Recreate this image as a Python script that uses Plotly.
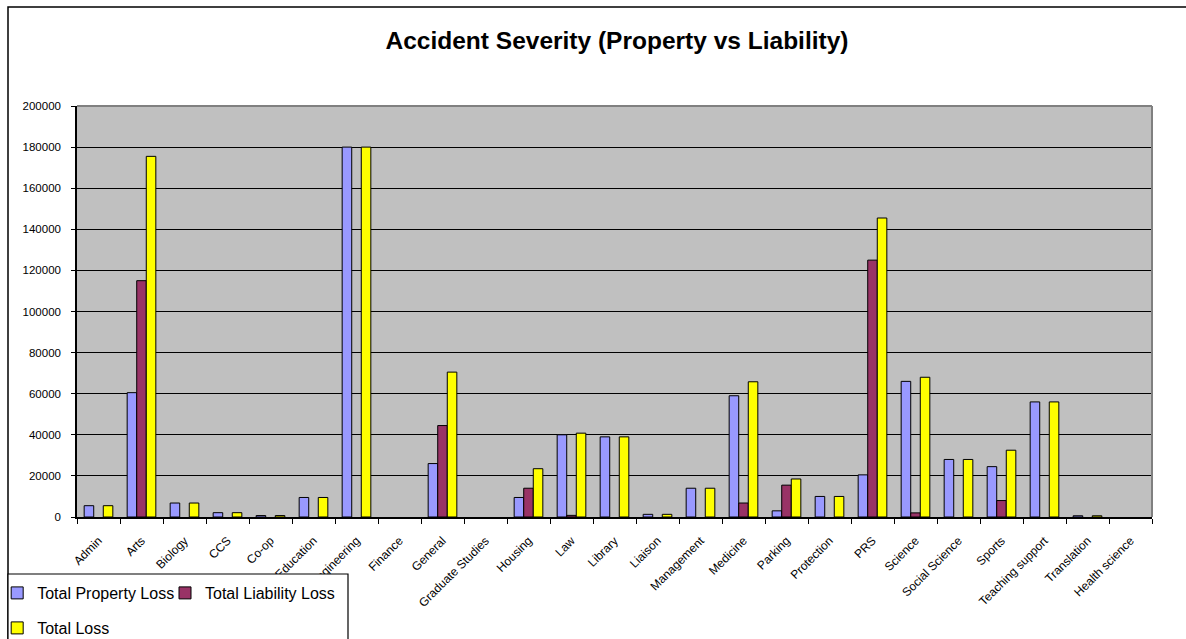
import plotly.graph_objects as go

categories = ["Admin", "Arts", "Biology", "CCS", "Co-op", "Education", "Engineering",
              "Finance", "General", "Graduate Studies", "Housing", "Law", "Library",
              "Liaison", "Management", "Medicine", "Parking", "Protection", "PRS",
              "Science", "Social Science", "Sports", "Teaching support", "Translation",
              "Health science"]
property_loss = [5500, 60500, 6800, 2100, 700, 9500, 180000, 0, 26000, 0, 9500, 40000, 39000,
                 1300, 14000, 59000, 3000, 10000, 20500, 66000, 28000, 24500, 56000, 600, 0]
liability_loss = [0, 115000, 0, 0, 0, 0, 0, 0, 44500, 0, 14000, 800, 0,
                  0, 0, 6800, 15500, 0, 125000, 2000, 0, 8000, 0, 0, 0]
total_loss = [5500, 175500, 6800, 2100, 700, 9500, 180000, 0, 70500, 0, 23500, 40800, 39000,
              1300, 14000, 65800, 18500, 10000, 145500, 68000, 28000, 32500, 56000, 600, 0]
series_names = ["Total Property Loss", "Total Liability Loss", "Total Loss"]
y_ticks = list(range(0, 200001, 20000))

colors = ["#9999FF", "#993366", "#FFFF00"]
FONT = "Liberation Sans, Arial, sans-serif"
W, H = 1186, 639
ML, MR, MT, MB = 77, 34, 106, 122
PW, PH = W - ML - MR, H - MT - MB


def px_x(p):
    return (p - ML) / PW


def px_y(p):
    return (H - MB - p) / PH


def nz(vals):
    return [v if v else None for v in vals]


fig = go.Figure()
for name, vals, col, lg in zip(series_names, [property_loss, liability_loss, total_loss],
                               colors, ["legend", "legend2", "legend3"]):
    fig.add_trace(go.Bar(x=categories, y=nz(vals), name=name, legend=lg, showlegend=True,
                         marker=dict(color=col, line=dict(color="black", width=1))))

leg_common = dict(xref="container", yref="container", xanchor="left", yanchor="middle",
                  bgcolor="rgba(0,0,0,0)", borderwidth=0, indentation=-4,
                  font=dict(family=FONT, size=16, color="black"))

fig.update_layout(
    width=W, height=H,
    showlegend=True,
    margin=dict(l=ML, r=MR, t=MT, b=MB, pad=0, autoexpand=False),
    paper_bgcolor="white", plot_bgcolor="#C0C0C0",
    barmode="group", bargap=0.333, bargroupgap=0,
    font=dict(family=FONT, color="black"),
    title=dict(text="<b>Accident Severity (Property vs Liability)</b>",
               x=617 / W, xanchor="center", xref="container",
               y=1 - 40 / H, yanchor="middle", yref="container",
               font=dict(family=FONT, size=24.5, color="black")),
    legend=dict(x=0.001, y=1 - 593 / H, **leg_common),
    legend2=dict(x=169 / W, y=1 - 593 / H, **leg_common),
    legend3=dict(x=0.001, y=1 - 628 / H, **leg_common),
    xaxis=dict(type="category", tickson="boundaries", ticks="outside", ticklen=5,
               tickcolor="black", tickwidth=1, showline=True, linecolor="black",
               linewidth=2, tickangle=-45, showgrid=False, ticklabelstandoff=10,
               tickfont=dict(family=FONT, size=12, color="black")),
    yaxis=dict(range=[0, 200000], tickvals=y_ticks, tickformat="d", ticks="outside",
               ticklen=4, tickcolor="black", showline=True, linecolor="black",
               linewidth=1.5, showgrid=True, gridcolor="black", gridwidth=1,
               zeroline=False, ticklabelstandoff=8,
               tickfont=dict(family=FONT, size=11.5, color="black")),
    shapes=[
        # outer chart border
        dict(type="rect", xref="paper", yref="paper", x0=px_x(8), x1=px_x(1200),
             y0=px_y(7), y1=px_y(660), line=dict(color="black", width=1.5),
             fillcolor="rgba(0,0,0,0)", layer="below"),
        # grey top & right plot border
        dict(type="line", xref="paper", yref="paper", x0=0, x1=1, y0=1, y1=1,
             line=dict(color="#808080", width=2), layer="above"),
        dict(type="line", xref="paper", yref="paper", x0=1, x1=1, y0=0, y1=1,
             line=dict(color="#808080", width=2), layer="above"),
        # legend box
        dict(type="rect", xref="paper", yref="paper", x0=px_x(8), x1=px_x(348),
             y0=px_y(574), y1=px_y(660), line=dict(color="black", width=1.2),
             fillcolor="white", layer="above"),
    ],
)

fig.write_html("out.html")
